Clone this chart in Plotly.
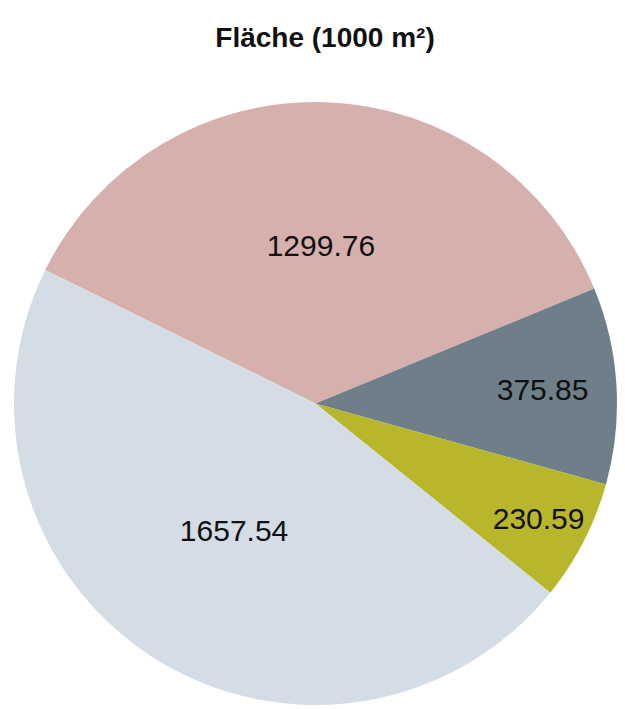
import plotly.graph_objects as go

labels = ["A", "B", "C", "D"]
values = [1299.76, 375.85, 230.59, 1657.54]
text_labels = ["1299.76", "375.85", "230.59", "1657.54"]
colors = ["#d6b0ad", "#6f7f8a", "#b8b62a", "#d4dde5"]

fig = go.Figure(go.Pie(
    labels=labels,
    values=values,
    text=text_labels,
    textinfo="text",
    textposition="inside",
    insidetextorientation="horizontal",
    sort=False,
    direction="clockwise",
    rotation=-63.7,
    marker=dict(colors=colors, line=dict(width=0)),
    textfont=dict(family="Liberation Sans, Arial, sans-serif", size=30, color="#111111"),
    showlegend=False,
    hoverinfo="label+value",
))

fig.update_layout(
    width=625, height=709,
    margin=dict(l=14, r=8, t=98, b=0),
    paper_bgcolor="white",
    plot_bgcolor="white",
    title=dict(text="<b>Fläche (1000 m²)</b>", x=0.52, xanchor="center", y=0.948, yanchor="middle",
               font=dict(family="Liberation Sans, Arial, sans-serif", size=28, color="#111111")),
)

fig.write_html("out.html")
